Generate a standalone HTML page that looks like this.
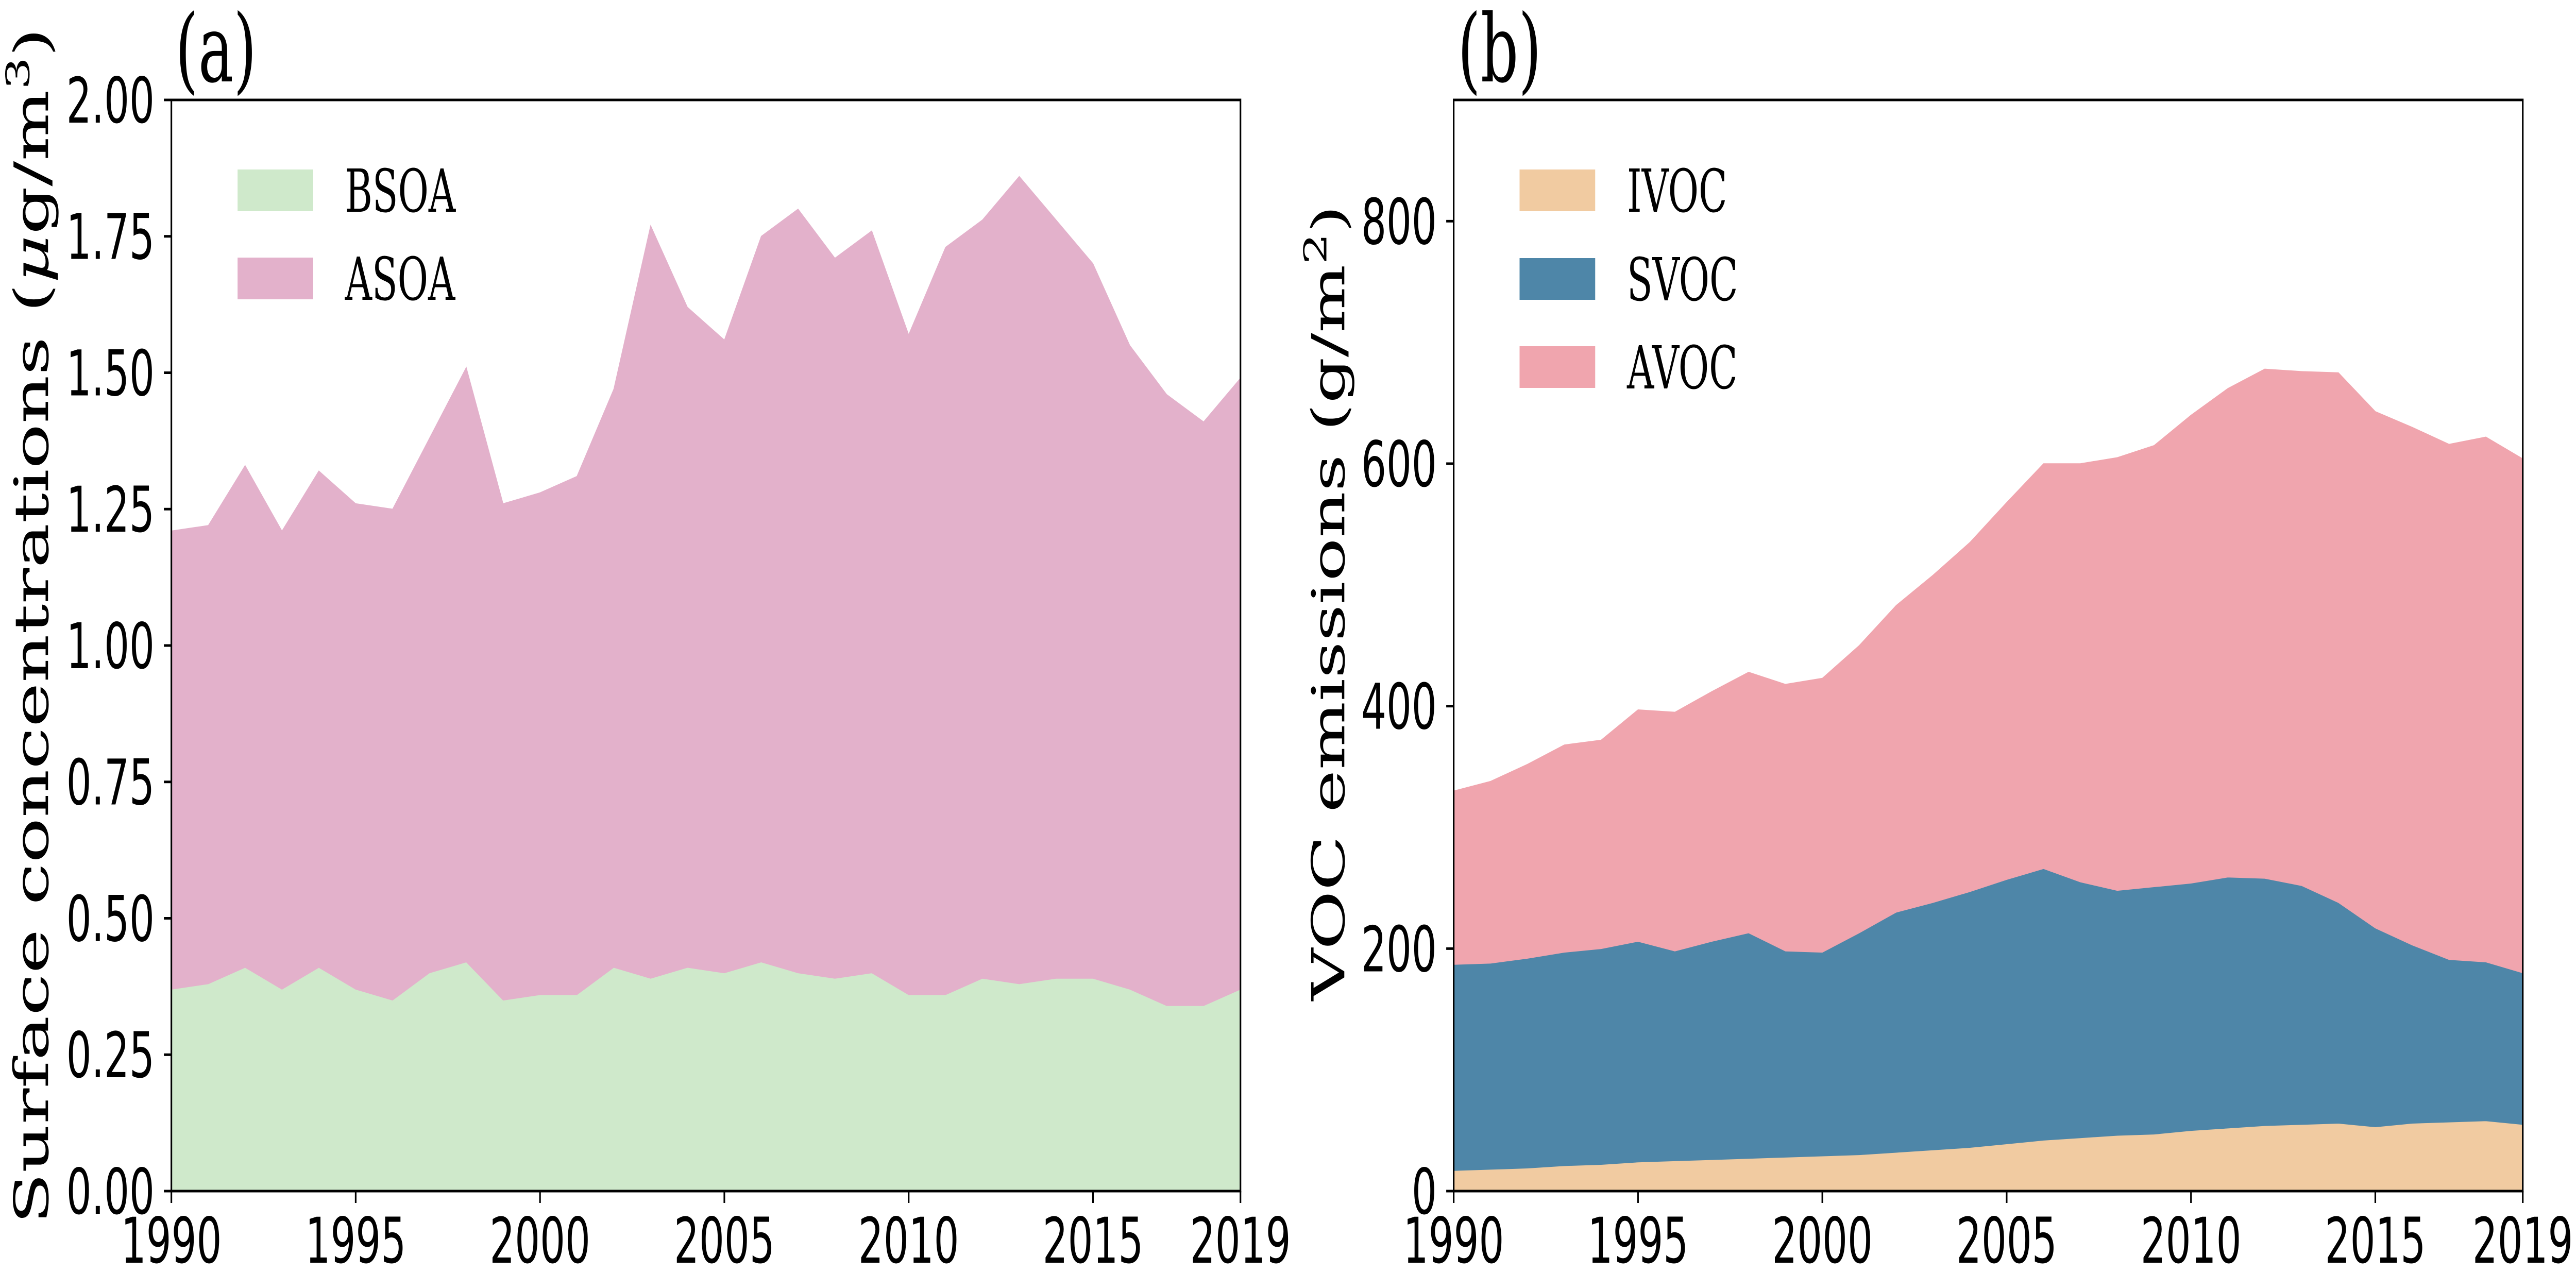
<!DOCTYPE html>
<html><head><meta charset="utf-8">
<style>
html,body{margin:0;padding:0;background:#fff;width:100%;height:100%;overflow:hidden;}
svg{display:block;width:100vw;height:100vh;}
.tick{font-family:"DejaVu Sans","Liberation Sans",sans-serif;font-size:122px;fill:#000;}
.serif{font-family:"DejaVu Serif","Liberation Serif",serif;fill:#000;}
</style></head>
<body>
<svg id="fig" viewBox="0 0 7937 2471" preserveAspectRatio="none" xmlns="http://www.w3.org/2000/svg">
<rect x="0" y="0" width="7937" height="2471" fill="#fff"/>
<g id="pa"></g>
<g id="pb"></g>
</svg>
<script>
const years = [1990,1991,1992,1993,1994,1995,1996,1997,1998,1999,2000,2001,2002,2003,2004,2005,2006,2007,2008,2009,2010,2011,2012,2013,2014,2015,2016,2017,2018,2019];
const bsoa = [0.37,0.38,0.41,0.37,0.41,0.37,0.35,0.40,0.42,0.35,0.36,0.36,0.41,0.39,0.41,0.40,0.42,0.40,0.39,0.40,0.36,0.36,0.39,0.38,0.39,0.39,0.37,0.34,0.34,0.37];
const asoa = [0.84,0.84,0.92,0.84,0.91,0.89,0.90,0.98,1.09,0.91,0.92,0.95,1.06,1.38,1.21,1.16,1.33,1.40,1.32,1.36,1.21,1.37,1.39,1.48,1.39,1.31,1.18,1.12,1.07,1.12];
const ivoc = [17,18,19,21,22,24,25,26,27,28,29,30,32,34,36,39,42,44,46,47,50,52,54,55,56,53,56,57,58,55];
const svoc = [170,170,173,176,178,182,173,180,186,170,168,183,198,204,211,218,224,211,202,204,204,207,204,197,182,164,147,134,131,125];
const avoc = [143,150,160,171,172,191,197,206,215,220,226,237,253,270,288,311,334,345,357,364,386,403,420,424,437,426,427,425,433,424];
const ticksA = [0,0.25,0.5,0.75,1.0,1.25,1.5,1.75,2.0];
const tickLabelsA = ["0.00","0.25","0.50","0.75","1.00","1.25","1.50","1.75","2.00"];
const ticksB = [0,200,400,600,800];
const xTicks = [1990,1995,2000,2005,2010,2015,2019];

const NS="http://www.w3.org/2000/svg";
function mk(parent,tag,attrs,text){const e=document.createElementNS(NS,tag);for(const k in attrs)e.setAttribute(k,attrs[k]);if(text!==undefined)e.textContent=text;parent.appendChild(e);return e;}

function panel(g,L,ymax,series,colors,names,yticks,ylabels,legendText,legendX,tag){
  const R=L+3294,T=194,B=2312;
  const xs=v=>L+(v-1990)/(2019-1990)*(R-L);
  const ys=v=>B-v/ymax*(B-T);
  let base=years.map(()=>0);
  series.forEach((s,si)=>{
    const top=base.map((b,i)=>b+s[i]);
    let d="M"+years.map((y,i)=>xs(y)+","+ys(top[i])).join(" L");
    for(let i=years.length-1;i>=0;i--) d+=" L"+xs(years[i])+","+ys(base[i]);
    d+=" Z";
    const p=mk(g,"path",{d:d,fill:colors[si],stroke:colors[si],"stroke-width":1.5});
    
    
    base=top;
  });
  const frame=mk(g,"rect",{x:L,y:T,width:R-L,height:B-T,fill:"none",stroke:"#000","stroke-width":5});
  
  
  yticks.forEach((v,i)=>{
    const y=ys(v);
    const t=mk(g,"line",{x1:L-23,x2:L,y1:y,y2:y,stroke:"#000","stroke-width":5});
    
    
    const lb=mk(g,"text",{x:L-52,y:y+44,"text-anchor":"end",class:"tick"},ylabels[i]);
    
    
  });
  xTicks.forEach(v=>{
    const x=xs(v);
    const t=mk(g,"line",{x1:x,x2:x,y1:B,y2:B+23,stroke:"#000","stroke-width":5});
    
    
    const lb=mk(g,"text",{x:x,y:2451,"text-anchor":"middle",class:"tick"},String(v));
    
    
  });
  const legTops=legendText.length===2?[329,500]:[329,501,672];
  legendText.forEach((n,i)=>{
    const r=mk(g,"rect",{x:legendX,y:legTops[i],width:233,height:81,fill:colors[i]});
    
    
    const t=mk(g,"text",{x:legendX+331,y:legTops[i]+82,class:"serif","font-size":115},n);
    
    
  });
  const pl=mk(g,"text",{x:L+12,y:158,class:"serif","font-size":182},tag);
  
  
}

const ga=document.getElementById('pa'), gb=document.getElementById('pb');
panel(ga,528,2.0,[bsoa,asoa],["#cfe9cb","#e3b1cb"],["BSOA","ASOA"],ticksA,tickLabelsA,["BSOA","ASOA"],732,"(a)");
panel(gb,4479,900,[ivoc,svoc,avoc],["#f1cba1","#4e86a8","#f0a5ae"],["IVOC","SVOC","AVOC"],ticksB,ticksB.map(String),["IVOC","SVOC","AVOC"],4682,"(b)");

const ya=mk(ga,"text",{transform:"translate(148,1215) rotate(-90)","text-anchor":"middle",class:"serif","font-size":146});


ya.innerHTML='Surface concentrations (<tspan font-style="italic">μ</tspan>g/m<tspan baseline-shift="super" font-size="100">3</tspan>)';
const yb=mk(gb,"text",{transform:"translate(4142,1170) rotate(-90)","text-anchor":"middle",class:"serif","font-size":140});


yb.innerHTML='VOC emissions (g/m<tspan baseline-shift="super" font-size="96">2</tspan>)';
</script>
</body></html>
